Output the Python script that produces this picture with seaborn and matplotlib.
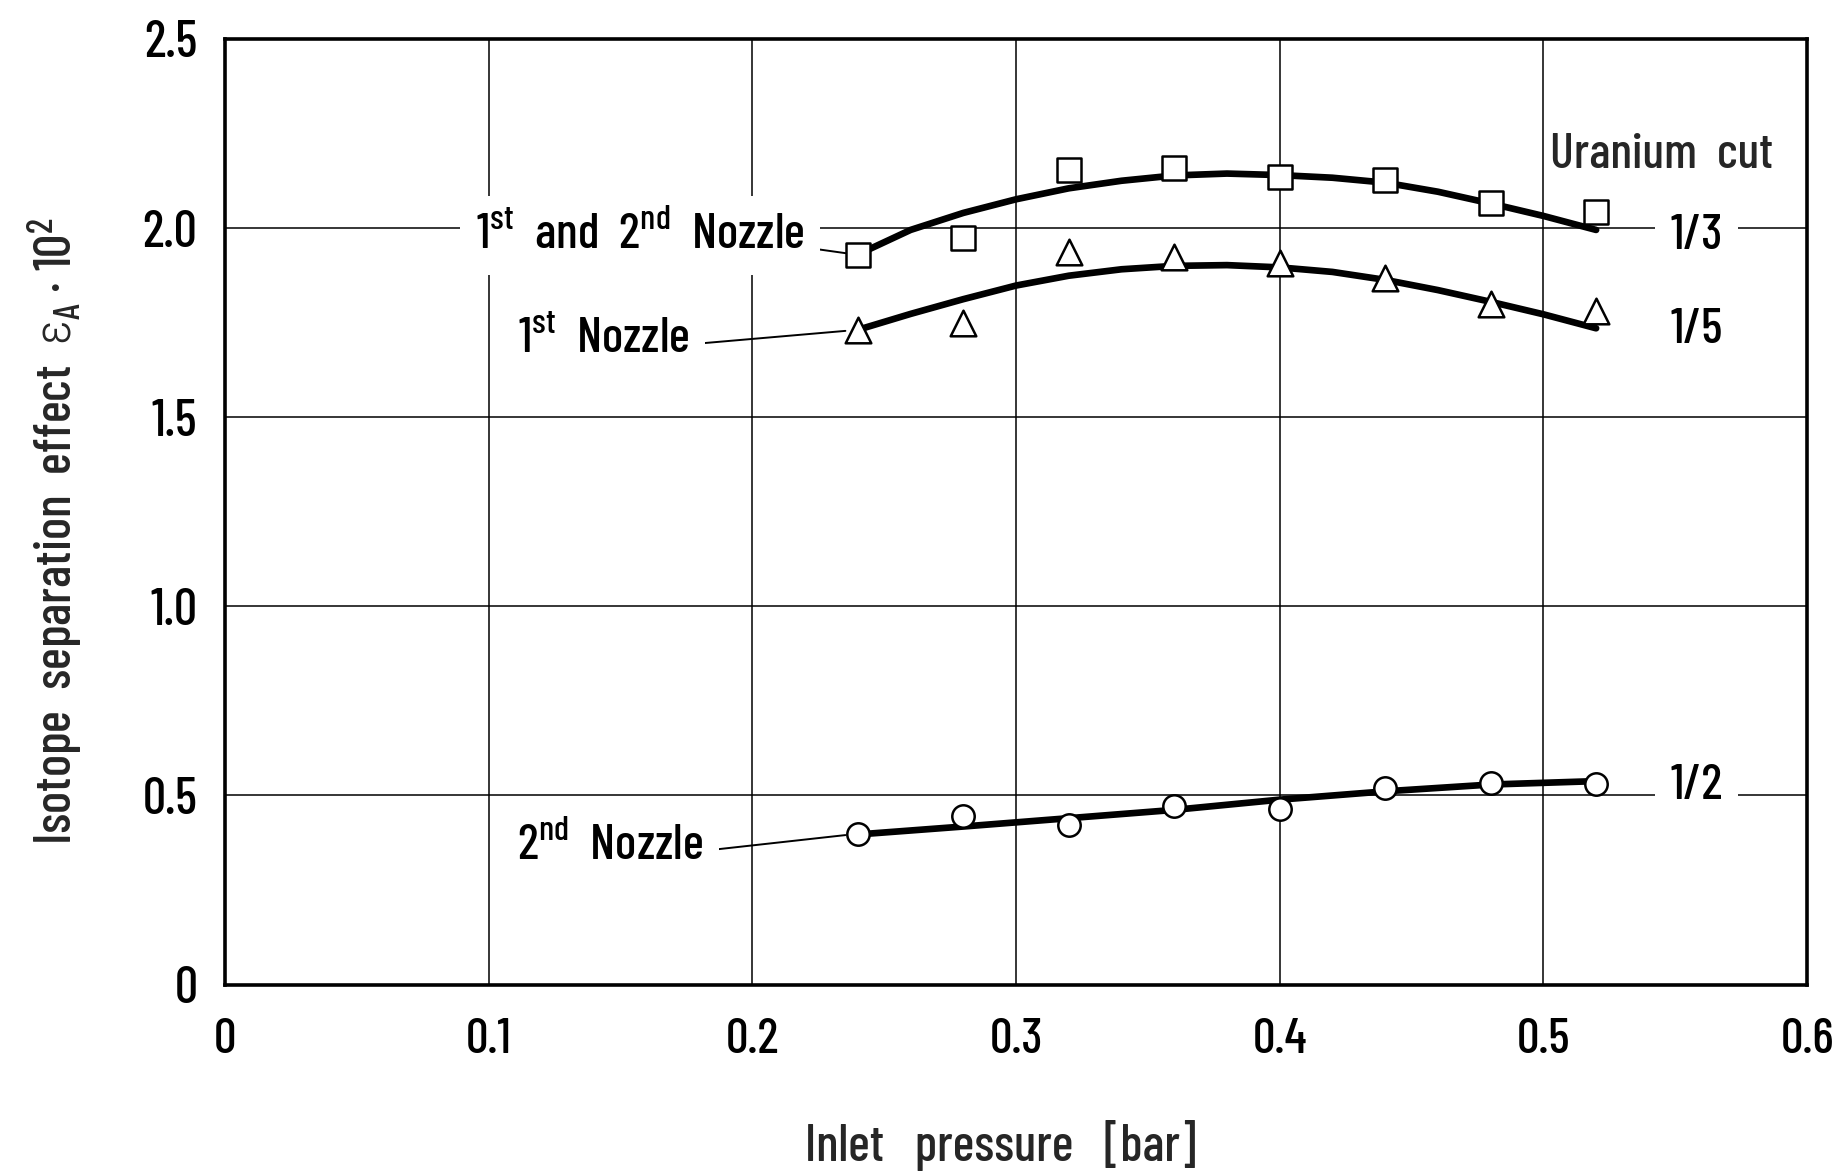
import matplotlib
matplotlib.use("Agg")
import matplotlib.pyplot as plt
import seaborn as sns

# ---------------- data ----------------
pressure = [0.24, 0.28, 0.32, 0.36, 0.40, 0.44, 0.48, 0.52]
eff_both_nozzles = [1.929, 1.974, 2.153, 2.160, 2.136, 2.127, 2.067, 2.043]   # squares, cut 1/3
eff_first_nozzle = [1.731, 1.749, 1.936, 1.924, 1.908, 1.869, 1.798, 1.781]   # triangles, cut 1/5
eff_second_nozzle = [0.399, 0.446, 0.423, 0.471, 0.465, 0.521, 0.533, 0.530]  # circles, cut 1/2

fit_pressure = [0.24, 0.26, 0.28, 0.30, 0.32, 0.34, 0.36, 0.38, 0.40, 0.42, 0.44, 0.46, 0.48, 0.50, 0.52]
fit_both = [1.930, 1.995, 2.040, 2.076, 2.105, 2.125, 2.139, 2.144, 2.140, 2.133, 2.120, 2.096, 2.065, 2.032, 1.995]
fit_first = [1.731, 1.773, 1.812, 1.848, 1.874, 1.891, 1.900, 1.902, 1.896, 1.884, 1.863, 1.836, 1.805, 1.772, 1.735]
fit_second_pressure = [0.24, 0.28, 0.32, 0.36, 0.40, 0.44, 0.48, 0.52]
fit_second = [0.397, 0.418, 0.440, 0.462, 0.489, 0.511, 0.529, 0.538]

x_ticks = [0, 0.1, 0.2, 0.3, 0.4, 0.5, 0.6]
x_tick_labels = ["0", "0.1", "0.2", "0.3", "0.4", "0.5", "0.6"]
y_ticks = [0, 0.5, 1.0, 1.5, 2.0, 2.5]
y_tick_labels = ["0", "0.5", "1.0", "1.5", "2.0", "2.5"]

series_labels = [r"1$^{\mathrm{st}}$  and  2$^{\mathrm{nd}}$  Nozzle",
                 r"1$^{\mathrm{st}}$  Nozzle",
                 r"2$^{\mathrm{nd}}$  Nozzle"]
cut_title = "Uranium  cut"
cut_labels = ["1/3", "1/5", "1/2"]

# ---------------- style ----------------
sns.set_style("white")
FONT = "Barlow Condensed"
plt.rcParams["font.family"] = [FONT, "DejaVu Sans"]
plt.rcParams["font.weight"] = "medium"
plt.rcParams["axes.labelweight"] = "medium"
plt.rcParams["mathtext.fontset"] = "custom"
plt.rcParams["mathtext.rm"] = FONT + ":medium"
plt.rcParams["mathtext.it"] = "Roboto Condensed:light"
plt.rcParams["mathtext.bf"] = FONT + ":bold"
plt.rcParams["mathtext.fallback"] = "stixsans"

fig = plt.figure(figsize=(18.43, 11.75), dpi=100)
ax = fig.add_axes([0.1221, 0.1620, 0.8584, 0.8049])

# fitted curves
for xs, ys in [(fit_pressure, fit_both), (fit_pressure, fit_first),
               (fit_second_pressure, fit_second)]:
    sns.lineplot(x=xs, y=ys, ax=ax, color="black", linewidth=4.8,
                 sort=False, estimator=None, zorder=4,
                 solid_capstyle="round", solid_joinstyle="round")

# measured points
sns.scatterplot(x=pressure, y=eff_both_nozzles, ax=ax, marker="s", s=290,
                facecolor="white", edgecolor="black", linewidth=1.8, zorder=6)
sns.scatterplot(x=pressure, y=eff_first_nozzle, ax=ax, marker="^", s=340,
                facecolor="white", edgecolor="black", linewidth=1.8, zorder=6)
sns.scatterplot(x=pressure, y=eff_second_nozzle, ax=ax, marker="o", s=260,
                facecolor="white", edgecolor="black", linewidth=1.8, zorder=6)

ax.set_xlim(0, 0.6)
ax.set_ylim(0, 2.5)
ax.set_xticks(x_ticks)
ax.set_xticklabels(x_tick_labels)
ax.set_yticks(y_ticks)
ax.set_yticklabels(y_tick_labels)
ax.tick_params(axis="both", length=0, colors="black")
ax.tick_params(axis="x", pad=24, labelsize=36)
ax.tick_params(axis="y", pad=20, labelsize=37)

ax.set_axisbelow(True)
ax.grid(True, color="black", linewidth=1.1)
for sp in ax.spines.values():
    sp.set_visible(True)
    sp.set_color("black")
    sp.set_linewidth(2.6)

ax.set_xlabel("Inlet   pressure   [bar]", fontsize=37, fontweight="medium")
ax.xaxis.set_label_coords(0.49, -0.170)
ax.xaxis.label.set_va("center")
ax.set_ylabel(r"Isotope  separation  effect  $\varepsilon_{\mathrm{A}}$ · 10$^{\mathrm{2}}$",
              fontsize=37.5, fontweight="medium")
ax.yaxis.set_label_coords(-0.108, 0.48)
ax.yaxis.label.set_va("center")

white_box = dict(facecolor="white", edgecolor="none", pad=11)
text_kw = dict(fontsize=36, color="black", zorder=3, bbox=white_box)
line_kw = dict(arrowstyle="-", color="black", lw=1.4, shrinkA=0, shrinkB=9)

# series labels with leader lines to first points
ax.annotate(series_labels[0], xy=(pressure[0], eff_both_nozzles[0]),
            xytext=(0.1574, 1.944), ha="center", va="baseline",
            arrowprops=dict(relpos=(1.0, 0.25), **line_kw), **text_kw)
ax.annotate(series_labels[1], xy=(pressure[0], eff_first_nozzle[0]),
            xytext=(0.1435, 1.671), ha="center", va="baseline",
            arrowprops=dict(relpos=(1.0, 0.4), **line_kw), **text_kw)
ax.annotate(series_labels[2], xy=(pressure[0], eff_second_nozzle[0]),
            xytext=(0.1461, 0.330), ha="center", va="baseline",
            arrowprops=dict(relpos=(1.0, 0.4), **line_kw), **text_kw)

# uranium cut labels
ax.text(0.5449, 2.158, cut_title, ha="center", va="baseline",
        fontsize=36, zorder=3)
ax.text(0.5582, 1.944, cut_labels[0], ha="center", va="baseline", **text_kw)
ax.text(0.5582, 1.696, cut_labels[1], ha="center", va="baseline", **text_kw)
ax.text(0.5582, 0.491, cut_labels[2], ha="center", va="baseline", **text_kw)

fig.savefig("out.png", dpi=100, facecolor="white")
